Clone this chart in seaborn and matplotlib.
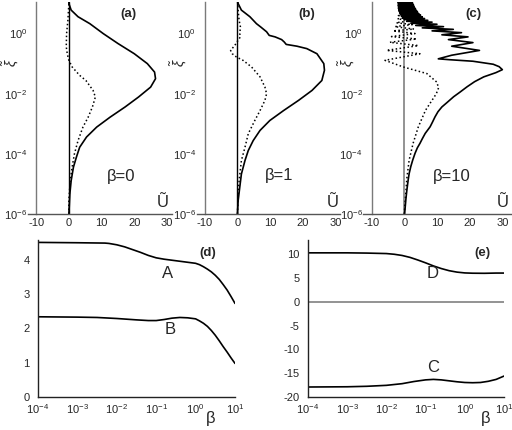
import numpy as np
import pandas as pd
import matplotlib
matplotlib.use("Agg")
import matplotlib.pyplot as plt
import seaborn as sns
from matplotlib.ticker import NullLocator

# ---------------- data ----------------
# panel (a), beta = 0
a_solid_logxi = [-6.0, -5.78, -5.33, -4.89, -4.44, -4.11, -3.78, -3.44, -3.11, -2.78, -2.44, -2.11,
                 -1.78, -1.5, -1.28, -1.0, -0.67, -0.33, 0.0, 0.33, 0.56, 0.78, 1.0, 1.1]
a_solid_u = [0.0, 0.1, 0.3, 0.7, 1.4, 2.3, 3.3, 5.4, 8.5, 12.6, 17.2, 21.3,
             25.0, 26.5, 26.2, 24.0, 20.0, 15.0, 10.5, 6.4, 2.8, 0.7, 0.0, 0.0]
a_dot_logxi = [-6.0, -5.56, -4.89, -4.44, -4.0, -3.56, -3.11, -2.78, -2.44, -2.11, -1.89, -1.56,
               -1.39, -1.11, -0.89, -0.67, -0.44, 0.0, 0.44, 1.0, 1.1]
a_dot_u = [0.0, 0.0, 0.4, 1.0, 1.7, 2.8, 4.3, 5.9, 7.2, 8.1, 7.4, 5.2,
           3.3, 1.0, 0.0, -0.5, -0.8, -0.7, -0.3, 0.0, 0.0]

# panel (b), beta = 1
b_solid_logxi = [-6.0, -5.56, -5.11, -4.67, -4.22, -3.89, -3.56, -3.22, -2.89, -2.56, -2.22, -1.89,
                 -1.56, -1.22, -1.0, -0.67, -0.5, -0.42, -0.36, -0.28, -0.2, -0.11, -0.06, 0.06,
                 0.22, 0.33, 0.56, 0.78, 1.0, 1.1]
b_solid_u = [0.0, 0.2, 0.7, 1.2, 2.3, 3.3, 4.8, 6.9, 9.9, 14.1, 18.7, 22.8,
             25.8, 26.6, 26.4, 24.3, 21.2, 18.2, 14.9, 14.3, 13.5, 11.5, 9.7, 8.9,
             7.1, 5.8, 3.8, 1.2, 0.2, 0.0]
b_dot_logxi = [-6.0, -5.4, -4.89, -4.22, -3.78, -3.33, -2.89, -2.56, -2.22, -2.0, -1.78, -1.44,
               -1.11, -0.89, -0.78, -0.67, -0.56, -0.39, -0.22, -0.11, 0.0, 0.22, 0.44, 0.78, 1.1]
b_dot_u = [0.0, 0.2, 0.5, 1.2, 2.3, 3.3, 5.3, 6.9, 8.4, 8.9, 8.4, 6.9,
           4.3, 1.7, -0.3, -1.6, -2.1, -0.8, 0.2, 0.9, 0.7, 0.9, 0.5, 0.2, 0.0]

# panel (c), beta = 10
c_solid_logxi = [-6.0, -5.5, -5.2, -4.86, -4.65, -4.42, -4.2, -3.98, -3.8, -3.65, -3.5, -3.32,
                 -3.1, -2.95, -2.77, -2.6, -2.44, -2.3, -2.1, -1.95, -1.77, -1.6, -1.44, -1.3,
                 -1.2, -1.1, -1.02, -0.92, -0.87, -0.84, -0.72, -0.56,
                 -0.42, -0.30, -0.20, -0.11, -0.04, 0.03, 0.09, 0.14, 0.19, 0.23, 0.27, 0.31,
                 0.345, 0.38, 0.41, 0.44, 0.47, 0.50, 0.53, 0.555, 0.58, 0.61, 0.635, 0.66,
                 0.685, 0.71, 0.735, 0.76, 0.785, 0.81, 0.835, 0.86, 0.885, 0.91, 0.935, 0.96,
                 0.985, 1.01, 1.035, 1.06, 1.085, 1.11]
c_solid_u = [0.1, 0.5, 0.8, 1.2, 1.5, 2.0, 2.6, 3.3, 4.0, 4.8, 5.5, 6.4,
             7.9, 8.6, 9.4, 10.3, 11.5, 13.0, 15.1, 17.0, 19.2, 21.5, 24.3, 28.0,
             30.0, 29.0, 27.2, 21.0, 14.0, 10.4, 14.5, 23.0,
             14.5, 21.0, 13.5, 19.5, 11.5, 17.5, 8.5, 15.0, 5.5, 12.0, 3.5, 10.0,
             2.0, 8.5, 0.8, 7.2, 0.0, 6.2, -0.5, 5.5, -0.9, 5.0, -1.2, 4.5,
             -1.4, 4.1, -1.6, 3.8, -1.7, 3.5, -1.8, 3.2, -1.85, 3.0, -1.9, 2.8,
             -1.9, 2.6, -1.95, 2.45, -2.0, 2.3]
c_dot_logxi = [-6.0, -5.4, -4.8, -4.2, -3.65, -3.1, -2.55, -2.3, -2.0, -1.8, -1.61, -1.33,
               -1.11, -0.89, -0.67, -0.56, -0.40, -0.29, -0.18, -0.10, 0.0, 0.09, 0.15, 0.23,
               0.30, 0.36, 0.43, 0.49, 0.54, 0.60, 0.65, 0.71, 0.76, 0.80, 0.84, 0.88, 0.92,
               0.96, 1.0, 1.04, 1.08]
c_dot_u = [0.0, 0.4, 0.8, 1.5, 2.7, 4.3, 6.5, 8.0, 9.8, 10.5, 9.9, 6.9,
           -0.3, -5.9, 4.8, -5.4, 4.3, -4.4, 3.8, -3.9, 3.3, -3.4, 3.0, -2.9,
           2.5, -2.5, 2.2, -2.1, 1.9, -1.8, 1.6, -1.5, 1.4, -1.3, 1.2, -1.1, 1.0,
           -1.0, 0.9, -0.9, 0.8]

# panel (d)
d_A_logbeta = [-4.0, -3.0, -2.3, -2.2, -2.0, -1.8, -1.6, -1.4, -1.2, -1.0, -0.8, -0.6, -0.4,
               -0.2, 0.0, 0.1, 0.2, 0.3, 0.4, 0.5, 0.6, 0.7, 0.8, 0.9, 1.0]
d_A = [4.51, 4.50, 4.49, 4.48, 4.44, 4.38, 4.30, 4.22, 4.13, 4.06, 4.02, 3.99, 3.96,
       3.93, 3.90, 3.86, 3.80, 3.73, 3.65, 3.55, 3.43, 3.28, 3.12, 2.93, 2.73]
d_B_logbeta = [-4.0, -3.0, -2.5, -2.0, -1.5, -1.2, -1.0, -0.8, -0.6, -0.4, -0.2, 0.0, 0.1,
               0.2, 0.3, 0.4, 0.5, 0.6, 0.7, 0.8, 0.9, 1.0]
d_B = [2.34, 2.33, 2.32, 2.29, 2.25, 2.23, 2.23, 2.26, 2.30, 2.32, 2.31, 2.28, 2.22,
       2.15, 2.06, 1.94, 1.80, 1.64, 1.47, 1.31, 1.14, 0.98]

# panel (e)
e_D_logbeta = [-4.0, -3.0, -2.5, -2.0, -1.8, -1.6, -1.4, -1.2, -1.0, -0.8, -0.6, -0.4, -0.2,
               0.0, 0.2, 0.5, 0.8, 1.0]
e_D = [10.3, 10.3, 10.25, 10.15, 10.0, 9.75, 9.35, 8.8, 8.2, 7.55, 7.0, 6.55, 6.25,
       6.08, 6.02, 6.0, 6.05, 6.05]
e_C_logbeta = [-4.0, -3.0, -2.5, -2.0, -1.6, -1.3, -1.0, -0.8, -0.6, -0.4, -0.2, 0.0, 0.2,
               0.4, 0.6, 0.8, 1.0]
e_C = [-17.9, -17.85, -17.75, -17.55, -17.2, -16.75, -16.4, -16.3, -16.4, -16.6, -16.8, -16.95,
       -17.0, -16.95, -16.7, -16.3, -15.6]

top_xticks = [-10, 0, 10, 20, 30]
top_yexps = [-6, -5, -4, -3, -2, -1, 0, 1]
d_yticks = [0, 1, 2, 3, 4]
e_yticks = [-20, -15, -10, -5, 0, 5, 10]
beta_exps = [-4, -3, -2, -1, 0, 1]

# ---------------- style ----------------
sns.set_style("white")
plt.rcParams["font.family"] = ["Liberation Sans", "DejaVu Sans"]
plt.rcParams["mathtext.fontset"] = "custom"
plt.rcParams["mathtext.rm"] = "Liberation Sans"
plt.rcParams["mathtext.it"] = "Liberation Sans:italic"
plt.rcParams["axes.unicode_minus"] = False

W, H = 512, 430
fig = plt.figure(figsize=(W / 100, H / 100), dpi=100)


def fx(px):
    return px / W


def fy(py):
    return 1 - py / H


SPINE_GREY = "#7a7a7a"
DOT = (0, (1.0, 1.6))


def top_axes(left_px, xmax):
    width_px = (xmax + 12.5) * 3.27
    return fig.add_axes([fx(left_px), fy(214), fx(width_px), 212 / H])


def style_top(ax, xmax):
    ax.set_yscale("log")
    ax.set_ylim(1e-6, 10 ** 1.05)
    ax.set_xlim(-12.5, xmax)
    for s in ["top", "right"]:
        ax.spines[s].set_visible(False)
    ax.spines["left"].set_position(("data", -10))
    ax.spines["left"].set_color(SPINE_GREY)
    ax.spines["left"].set_linewidth(1.0)
    ax.spines["bottom"].set_color("#555555")
    ax.spines["bottom"].set_linewidth(1.0)
    ax.set_yticks([10.0 ** e for e in top_yexps])
    ax.set_yticklabels([("$10^{%d}$" % e) if e % 2 == 0 and e <= 0 else "" for e in top_yexps])
    ax.yaxis.set_minor_locator(NullLocator())
    ax.set_xticks(top_xticks)
    ax.set_xticklabels([str(t) for t in top_xticks])
    ax.tick_params(axis="y", direction="out", length=4, width=1.0, color=SPINE_GREY,
                   labelsize=8, pad=2.5)
    ax.tick_params(axis="x", length=0, labelsize=8, pad=3)
    ax.set_xlabel("")
    ax.set_ylabel("")
    ax.patch.set_alpha(0)


def draw_profile(ax, logxi, u, ls, color="black", lw=1.1):
    df = pd.DataFrame({"U": u, "xi": 10.0 ** np.array(logxi)})
    sns.lineplot(data=df, x="U", y="xi", sort=False, estimator=None, ax=ax,
                 color=color, linewidth=lw, linestyle=ls, legend=False)


for left_px, xmax, zero_color, (ls_logxi, ls_u, ld_logxi, ld_u) in [
    (28, 31.5, "black", (a_solid_logxi, a_solid_u, a_dot_logxi, a_dot_u)),
    (196.6, 31.5, "black", (b_solid_logxi, b_solid_u, b_dot_logxi, b_dot_u)),
    (363.4, 32.6, "#8a8a8a", (c_solid_logxi, c_solid_u, c_dot_logxi, c_dot_u)),
]:
    ax = top_axes(left_px, xmax)
    ax.axvline(0, color=zero_color, lw=1.0 if zero_color == "black" else 1.3, zorder=1)
    draw_profile(ax, ld_logxi, ld_u, DOT, lw=1.1)
    draw_profile(ax, ls_logxi, ls_u, "-", lw=1.2)
    style_top(ax, xmax)


# ---------------- bottom panels ----------------
def bottom_axes(left_px, width_px):
    return fig.add_axes([fx(left_px), fy(397), fx(width_px), (397 - 240) / H])


def style_bottom(ax, ylim, yticks):
    ax.set_xscale("log")
    ax.set_xlim(1e-4, 1e1)
    ax.set_ylim(*ylim)
    for s in ["top", "right"]:
        ax.spines[s].set_visible(False)
    for s in ["left", "bottom"]:
        ax.spines[s].set_color("#222222")
        ax.spines[s].set_linewidth(1.0)
    ax.set_yticks(yticks)
    ax.set_yticklabels([str(t) for t in yticks])
    ax.set_xticks([10.0 ** e for e in beta_exps])
    ax.set_xticklabels(["$10^{%d}$" % e for e in beta_exps])
    ax.tick_params(axis="y", direction="out", length=3.5, width=1.0, labelsize=8, pad=2.5,
                   color="#444444")
    ax.tick_params(axis="x", which="major", direction="in", length=4, width=0.8,
                   labelsize=8, pad=4, color="#444444")
    ax.tick_params(axis="x", which="minor", direction="in", length=2.5, width=0.6,
                   color="#555555")
    ax.set_xlabel("")
    ax.set_ylabel("")
    ax.patch.set_alpha(0)


def draw_beta(ax, logb, vals, color="black", lw=1.2):
    df = pd.DataFrame({"beta": 10.0 ** np.array(logb), "v": vals})
    sns.lineplot(data=df, x="beta", y="v", sort=False, estimator=None, ax=ax,
                 color=color, linewidth=lw, legend=False)


ax_d = bottom_axes(38, 197)
draw_beta(ax_d, d_A_logbeta, d_A)
draw_beta(ax_d, d_B_logbeta, d_B)
style_bottom(ax_d, (0, 4.58), d_yticks)

ax_e = bottom_axes(308, 196)
ax_e.axhline(0, color="#8a8a8a", lw=1.3, zorder=1)
draw_beta(ax_e, e_D_logbeta, e_D)
draw_beta(ax_e, e_C_logbeta, e_C)
style_bottom(ax_e, (-20, 13), e_yticks)


# ---------------- annotations ----------------
def t(xp, yp, s, size, **kw):
    fig.text(fx(xp), fy(yp), s, ha="center", va="center", fontsize=size, **kw)


for xp, lab in [(128, "(a)"), (307, "(b)"), (473, "(c)")]:
    t(xp, 14, lab, 9.5, fontweight="bold")
for xp, yp, lab in [(121, 177, "β=0"), (279, 175, "β=1"), (452, 177, "β=10")]:
    t(xp, yp, lab, 12)
for xp in [163, 333, 503]:
    t(xp, 202, "Ũ", 12)
for xp in [11, 179, 347]:
    t(xp, 63, r"$\tilde{\xi}$", 10, rotation=90)

t(208, 253, "(d)", 9.5, fontweight="bold")
t(482, 253, "(e)", 9.5, fontweight="bold")
t(168, 273, "A", 12)
t(170, 329, "B", 12)
t(433, 273, "D", 12)
t(433, 368, "C", 12)
t(211, 419, "β", 12)
t(486, 419, "β", 12)

fig.savefig("out.png", dpi=100)
